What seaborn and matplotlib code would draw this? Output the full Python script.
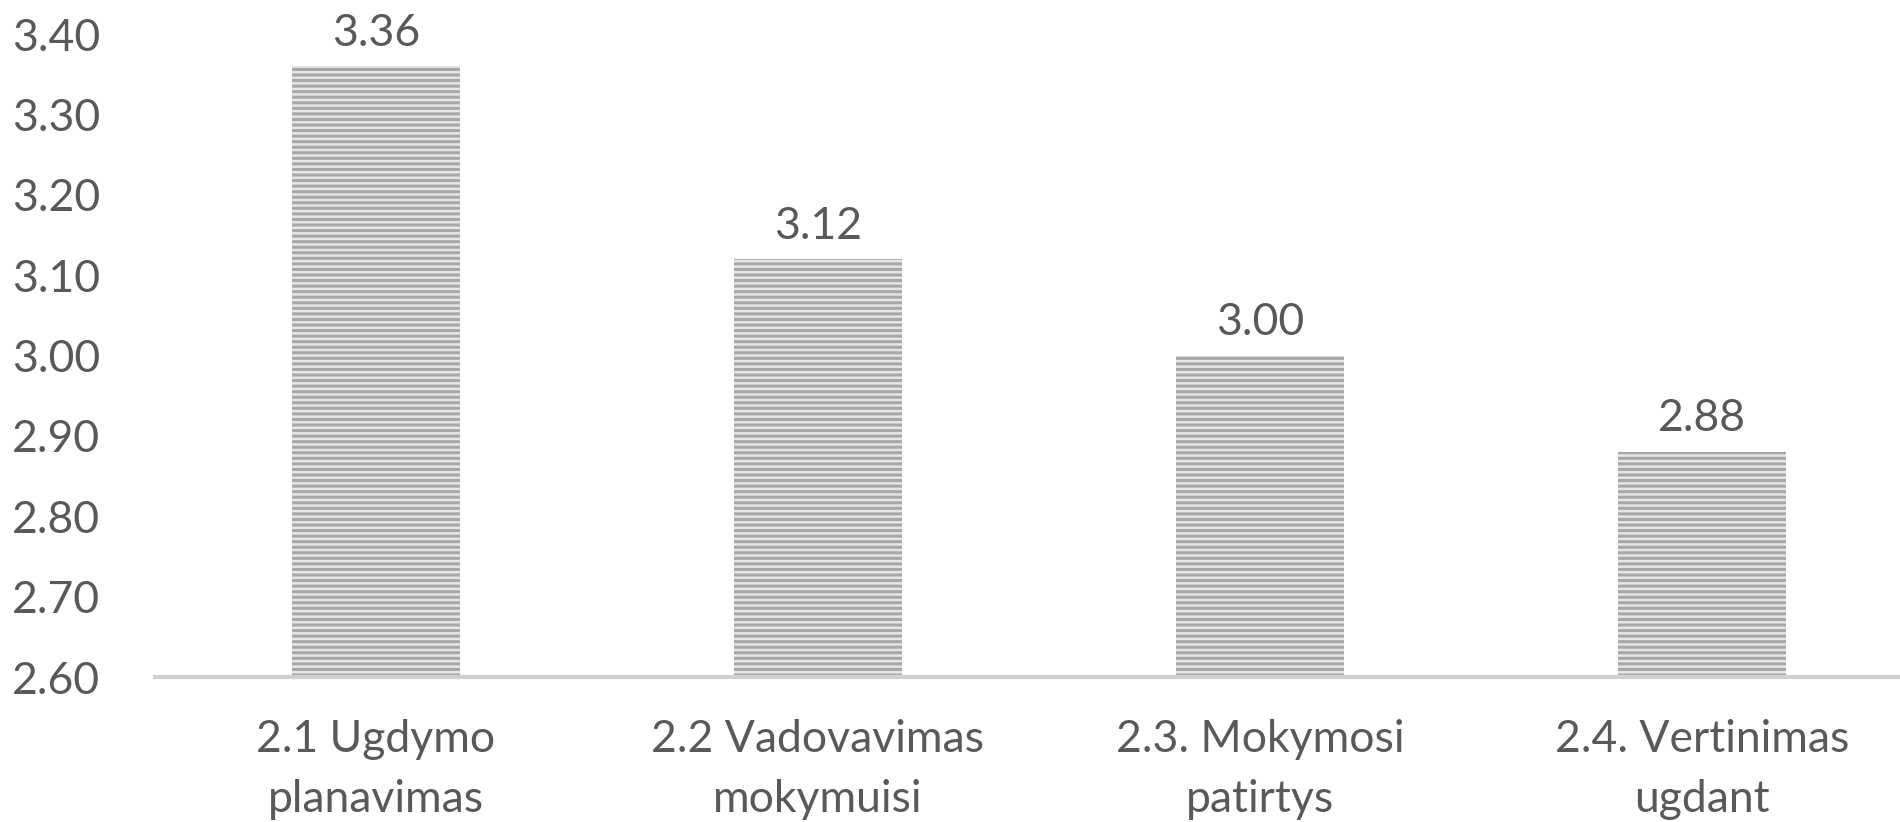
import matplotlib
matplotlib.use("Agg")
import matplotlib.pyplot as plt
import seaborn as sns
import pandas as pd

# Datos del gráfico
categorias = ["2.1 Ugdymo\nplanavimas", "2.2 Vadovavimas\nmokymuisi",
              "2.3. Mokymosi\npatirtys", "2.4. Vertinimas\nugdant"]
valores = [3.36, 3.12, 3.00, 2.88]
ticks_y = [2.60, 2.70, 2.80, 2.90, 3.00, 3.10, 3.20, 3.30, 3.40]

sns.set_style("white")
plt.rcParams["font.family"] = ["Lato", "DejaVu Sans"]
plt.rcParams["hatch.linewidth"] = 2.2

df = pd.DataFrame({"cat": categorias, "val": valores})

fig = plt.figure(figsize=(19, 8.22), dpi=100)
ax = fig.add_axes([155 / 1900, 1 - 677 / 822, 1 - 155 / 1900, (677 - 34) / 822])

sns.barplot(data=df, x="cat", y="val", ax=ax, color="#e6e6e6", width=0.38,
            edgecolor="#a8a8a8", linewidth=0)
for p in ax.patches:
    p.set_hatch("---")
    p.set_linewidth(0)

ax.set_ylim(2.6, 3.4)
ax.set_xlim(-0.5, 3.448)
ax.set_yticks(ticks_y)
ax.set_yticklabels([f"{t:.2f}" for t in ticks_y])

txt = "#595959"
ax.tick_params(axis="y", labelsize=32, labelcolor=txt, length=0, pad=0)
ax.tick_params(axis="x", labelsize=32, labelcolor=txt, length=0, pad=30)
for lab in ax.get_yticklabels():
    lab.set_horizontalalignment("left")
    lab.set_x(-155 / 1745 + 12 / 1745)
for lab in ax.get_xticklabels():
    lab.set_linespacing(1.6)

# etiquetas de valor sobre las barras
for i, v in enumerate(valores):
    ax.annotate(f"{v:.2f}", (i, v), xytext=(0, 9), textcoords="offset points",
                ha="center", va="bottom", fontsize=32, color=txt)

for s in ["top", "right", "left"]:
    ax.spines[s].set_visible(False)
ax.spines["bottom"].set_color("#d0d0d0")
ax.spines["bottom"].set_linewidth(3)
ax.set_xlabel("")
ax.set_ylabel("")

fig.savefig("out.png", dpi=100)
